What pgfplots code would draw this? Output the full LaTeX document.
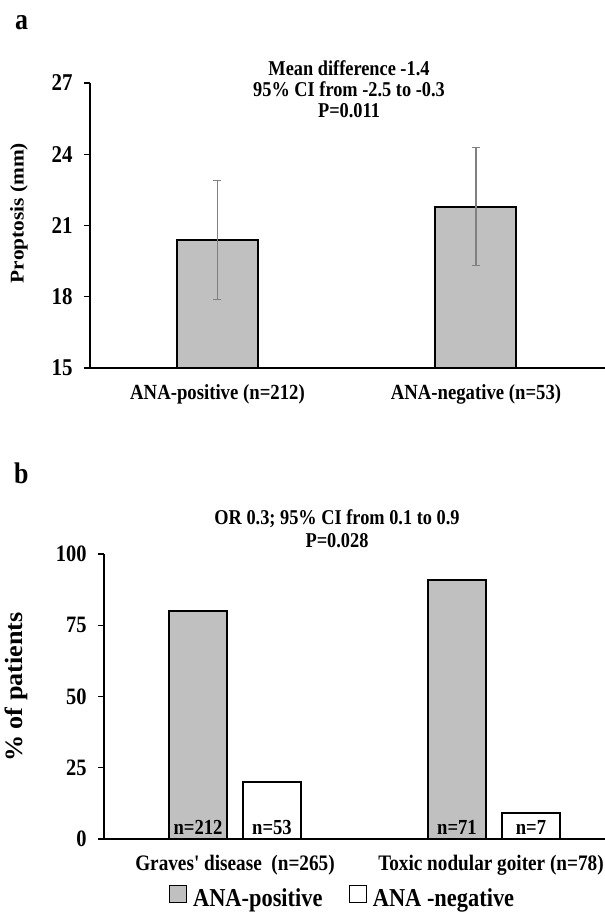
\documentclass[border=0pt]{standalone}
\usepackage{fontspec}
\setmainfont{Liberation Serif}
\usepackage{graphicx}
\usepackage{pgfplots}
\pgfplotsset{compat=1.18}
\definecolor{barfill}{RGB}{192,192,192}
\definecolor{errgray}{RGB}{128,128,128}
\newcommand{\fs}[1]{\fontsize{#1}{#1}\selectfont\bfseries}
\newcommand{\tall}[1]{\scalebox{1}[1.15]{#1}}

\begin{document}
\begin{tikzpicture}
\useasboundingbox (0,0) rectangle (605bp,-912bp);
% ---------------- panel a ----------------
\node[anchor=base west, font=\fs{26}, inner sep=0] at (15bp,-30bp) {\tall{a}};
\node[anchor=base, font=\fs{18.4}, inner sep=0] at (349bp,-75bp) {\tall{Mean difference -1.4}};
\node[anchor=base, font=\fs{18.4}, inner sep=0] at (349bp,-96bp) {\tall{95\% CI from -2.5 to -0.3}};
\node[anchor=base, font=\fs{18.4}, inner sep=0] at (349bp,-117bp) {\tall{P=0.011}};
\node[rotate=90, font=\fs{19.5}] at (19bp,-213bp) {\scalebox{1.1}[1]{Proptosis (mm)}};
\begin{axis}[
  scale only axis, width=515bp, height=285bp,
  at={(90bp,-368bp)}, anchor=south west,
  xmin=-0.4932, xmax=1.4991, ymin=15, ymax=27,
  axis x line=bottom, axis y line=left,
  axis line style={-, line width=1.3bp},
  ytick={15,18,21,24,27},
  yticklabels={\tall{15},\tall{18},\tall{21},\tall{24},\tall{27}},
  xtick={0,1},
  xticklabels={\tall{ANA-positive (n=212)}, \tall{ANA-negative (n=53)}},
  x tick style={draw=none}, y tick style={line width=1.3bp, black},
  tick align=outside, major tick length=6bp,
  yticklabel style={font=\fs{21}, xshift=-8bp},
  xticklabel style={font=\fs{18.8}, yshift=-7bp},
]
\addplot[ybar, bar width=81bp, fill=barfill, draw=black, line width=2bp,
  error bars/.cd, y dir=both, y explicit,
  error bar style={errgray, line width=1.2bp},
  error mark options={rotate=90, errgray, mark size=4bp, line width=1.2bp}]
 coordinates {(0,20.4) +- (0,2.5) (1,21.8) +- (0,2.5)};
\end{axis}
% ---------------- panel b ----------------
\node[anchor=base west, font=\fs{26}, inner sep=0] at (14bp,-483bp) {\tall{b}};
\node[anchor=base, font=\fs{18.4}, inner sep=0] at (337bp,-524bp) {\tall{OR 0.3; 95\% CI from 0.1 to 0.9}};
\node[anchor=base, font=\fs{18.4}, inner sep=0] at (337bp,-547bp) {\tall{P=0.028}};
\node[rotate=90, font=\fs{25}] at (16bp,-687bp) {\scalebox{1.05}[1]{\% of patients}};
\begin{axis}[
  scale only axis, width=501bp, height=285bp,
  at={(104bp,-839bp)}, anchor=south west,
  xmin=-0.5058, xmax=1.4286, ymin=0, ymax=100,
  axis x line=bottom, axis y line=left,
  axis line style={-, line width=1.3bp},
  ytick={0,25,50,75,100},
  yticklabels={\tall{0},\tall{25},\tall{50},\tall{75},\tall{100}},
  xtick={0,1},
  xticklabels={\tall{Graves\textquotesingle\ disease\ \ (n=265)}, \tall{Toxic nodular goiter (n=78)\hspace*{6bp}}},
  x tick style={draw=none}, y tick style={line width=1.3bp, black},
  tick align=outside, major tick length=6bp,
  yticklabel style={font=\fs{20.5}, xshift=-8bp},
  xticklabel style={font=\fs{19.3}, yshift=-7bp},
  legend style={draw=none, fill=none, at={(0.476,-0.205)}, anchor=center,
    legend columns=2, inner sep=0pt,
    nodes={font=\fs{22.5}},
    /tikz/every odd column/.append style={column sep=4bp},
    /tikz/every even column/.append style={column sep=24bp}},
  legend image code/.code={\draw[#1, line width=1.3bp] (0bp,-4bp) rectangle (17bp,13bp);},
]
\addplot[ybar, bar width=58bp, bar shift=-37bp, fill=barfill, draw=black, line width=2bp]
 coordinates {(0,80) (1,91)};
\addplot[ybar, bar width=58bp, bar shift=37bp, fill=white, draw=black, line width=2bp]
 coordinates {(0,20) (1,9)};
\legend{\tall{\textbf{ANA-positive}}, \tall{\textbf{ANA -negative}}}
\node[anchor=base, font=\fs{18.7}, xshift=-37bp, yshift=5bp] at (axis cs:0,0) {\tall{n=212}};
\node[anchor=base, font=\fs{18.7}, xshift=37bp, yshift=5bp] at (axis cs:0,0) {\tall{n=53}};
\node[anchor=base, font=\fs{18.7}, xshift=-37bp, yshift=5bp] at (axis cs:1,0) {\tall{n=71}};
\node[anchor=base, font=\fs{18.7}, xshift=37bp, yshift=5bp] at (axis cs:1,0) {\tall{n=7}};
\end{axis}
\end{tikzpicture}
\end{document}
